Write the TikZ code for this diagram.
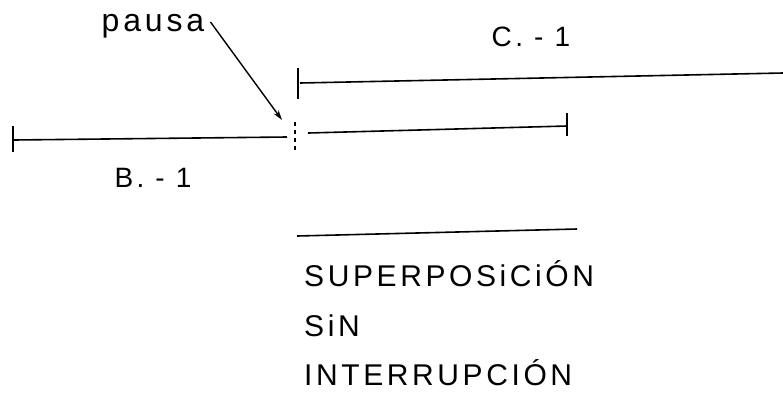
\documentclass[tikz,border=0pt]{standalone}
\usepackage{fontspec}
\setmainfont{Liberation Sans}
\newfontfamily\handfont[LetterSpace=12]{Liberation Sans}
\usetikzlibrary{arrows.meta,positioning}
\tikzset{
  segment/.style={line width=1.6pt},
  endtick/.style={line width=1.6pt},
  pausemark/.style={line width=1.6pt, dash pattern=on 4pt off 4pt},
  label text/.style={font=\handfont\fontsize{28}{32}\selectfont, inner sep=0pt},
  caption text/.style={font=\handfont\fontsize{30}{36}\selectfont, inner sep=0pt, anchor=base west},
  pointer/.style={-{Stealth[length=10pt,width=6pt]}, line width=1.4pt},
}

\begin{document}
\begin{tikzpicture}[x=1pt,y=-1pt]
  \useasboundingbox (0,0) rectangle (783,394);

  % Segment B-1 (ends at the pause)
  \coordinate (b start) at (14,140);
  \coordinate (b end) at (287,137);
  \draw[endtick] (13,126) -- (13,152);
  \draw[segment] (b start) -- (b end);
  \node[label text] (b label) at (153,178) {B. - 1};

  % Pause mark
  \coordinate (pause top) at (295,122);
  \coordinate (pause bottom) at (295,151);
  \draw[pausemark] (pause top) -- (pause bottom);
  \node[label text, font=\handfont\fontsize{32}{36}\selectfont] (pausa) at (153,26) {pausa};
  \draw[pointer] ([xshift=6pt,yshift=4pt]pausa.east) -- (282,120);

  % Rest of B-1 after the pause
  \coordinate (rest start) at (308,133);
  \coordinate (rest end) at (567,126);
  \draw[segment] (rest start) -- (rest end);
  \draw[endtick] (567,113) -- (567,136);

  % Segment C-1 (starts at the pause)
  \coordinate (c start) at (300,83);
  \coordinate (c end) at (783,73);
  \draw[endtick] (298,68) -- (298,99);
  \draw[segment] (c start) -- (c end);
  \node[label text] (c label) at (531,37) {C. - 1};

  % Caption
  \coordinate (rule left) at (297,236);
  \coordinate (rule right) at (577,229);
  \draw[segment] (rule left) -- (rule right);
  \node[caption text] (cap one) at (304,286) {SUPERPOSiCiÓN};
  \node[caption text] (cap two) at (304,336) {SiN};
  \node[caption text] (cap three) at (304,385) {INTERRUPCIÓN};
\end{tikzpicture}
\end{document}
